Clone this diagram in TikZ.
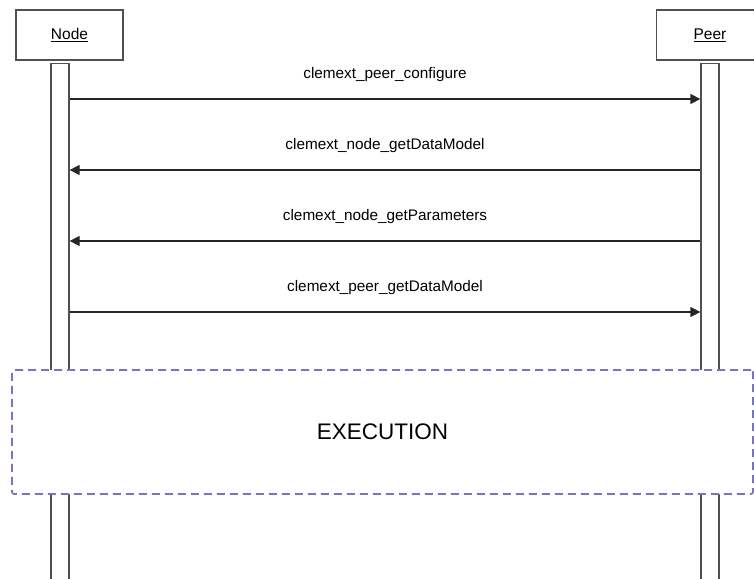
\documentclass[tikz,border=0pt]{standalone}
\usepackage{fontspec}
\setmainfont{Liberation Sans}
\usetikzlibrary{arrows.meta}
\definecolor{lifegray}{RGB}{80, 80, 80}
\definecolor{execblue}{RGB}{118, 118, 192}
\newcommand*{\lw}{1.3pt}

\begin{document}
\begin{tikzpicture}[
   x=1pt, y=-1pt,
   actor/.style={rectangle, draw=lifegray, line width=\lw, inner sep=0,
                 minimum width=107pt, minimum height=50pt,
                 font=\fontsize{15.5}{18}\selectfont},
   lifeline/.style={rectangle, draw=lifegray, fill=white, line width=\lw,
                    inner sep=0, minimum width=18pt, minimum height=530pt,
                    anchor=north},
   msg/.style={-{Triangle[length=10pt, width=10pt]}, draw=black!85,
               line width=\lw},
   msglabel/.style={font=\fontsize{15.3}{18}\selectfont, inner sep=0,
                    anchor=base, yshift=21pt},
   execbox/.style={rectangle, draw=execblue, fill=white, line width=1.6pt,
                   dash pattern=on 8pt off 5pt, rounded corners=2pt}
  ]

  \useasboundingbox (0, 0) rectangle (754, 578);
  \clip (0, 0) rectangle (754, 578);

  % Actors
  \node (nodebox) at (69.5, 35) [actor] {\underline{Node}};
  \node (peerbox) at (710, 35) [actor] {\underline{Peer}};

  \node (nodebar) at (60, 63) [lifeline] {};
  \node (peerbar) at (710, 63) [lifeline] {};

  % Messages
  \foreach \y/\i in {99/1, 170/2, 241/3, 312/4} {
    \coordinate (n\i) at (nodebar.east |- 0, \y);
    \coordinate (p\i) at (peerbar.west |- 0, \y);
  }

  \draw[msg] (n1) -- (p1) node[msglabel, midway] {clemext\_peer\_configure};
  \draw[msg] (p2) -- (n2) node[msglabel, midway] {clemext\_node\_getDataModel};
  \draw[msg] (p3) -- (n3) node[msglabel, midway] {clemext\_node\_getParameters};
  \draw[msg] (n4) -- (p4) node[msglabel, midway] {clemext\_peer\_getDataModel};

  % Execution
  \node (exec) at (382.5, 432) [execbox, minimum width=741pt, minimum height=124pt,
        font=\fontsize{22.5}{27}\selectfont] {EXECUTION};

\end{tikzpicture}
\end{document}
